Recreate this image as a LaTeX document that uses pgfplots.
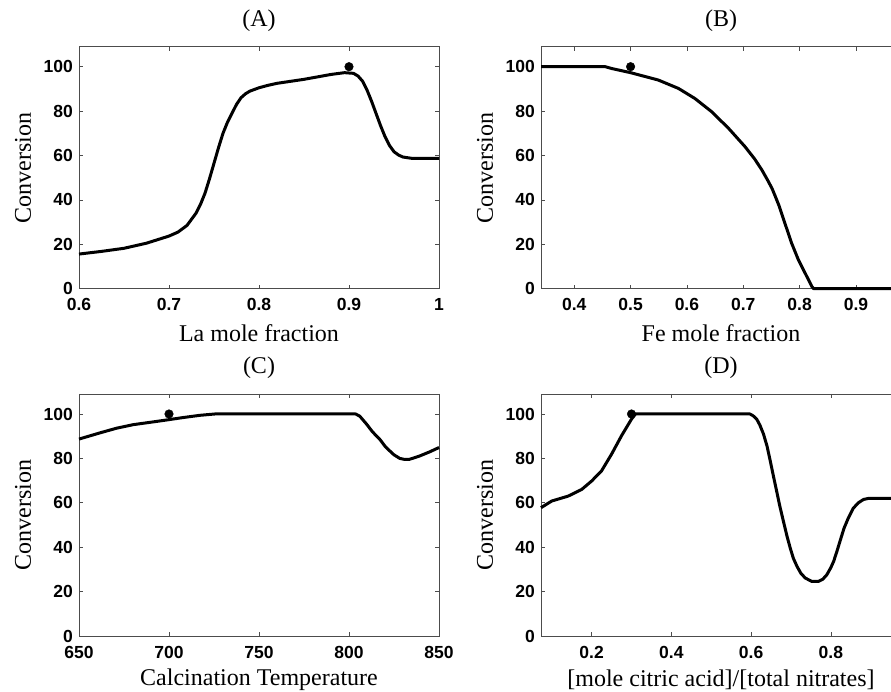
\documentclass[border=0pt]{standalone}
\usepackage{fontspec}
\setmainfont{Liberation Serif}
\newfontfamily\ticksf{Liberation Sans}
\usepackage{pgfplots}
\pgfplotsset{compat=1.18}
\pgfplotsset{
  panel/.style={
    scale only axis, width=360pt, height=242pt,
    ymin=0, ymax=109, ytick={0,20,40,60,80,100},
    tick align=inside, major tick length=4pt,
    axis line style={line width=0.8pt, black!70},
    every tick/.style={black!70, line width=0.6pt},
    /pgf/number format/assume math mode=true,
    tick label style={font=\ticksf\bfseries\fontsize{17.5}{17.5}\selectfont, inner sep=0pt},
    xticklabel style={anchor=center, yshift=-16pt},
    yticklabel style={anchor=east, xshift=-6pt},
    ylabel={Conversion},
    ylabel style={at={(axis description cs:-0.1556,0.5)}, anchor=center, font=\fontsize{24}{24}\selectfont},
    xlabel style={at={(axis description cs:0.5,-0.182)}, anchor=center, font=\fontsize{24}{24}\selectfont},
    title style={at={(axis description cs:0.5,1.083)}, anchor=center, font=\fontsize{24}{24}\selectfont},
    clip=false,
  },
  curve/.style={black, line width=3pt, line join=round},
  dot/.style={only marks, mark=*, mark size=4.3pt, black},
}
\begin{document}
\begin{tikzpicture}
\path[use as bounding box] (0,0) rectangle (891pt,691pt);
\clip (0,0) rectangle (891pt,691pt);
% (A)
\begin{axis}[panel, at={(79pt,402.3pt)}, anchor=south west,
  xmin=0.6, xmax=1, xtick={0.6,0.7,0.8,0.9,1},
  title={(A)}, xlabel={La mole fraction}]
\addplot[curve] coordinates {
(0.6,15.6) (0.625,16.8) (0.65,18.2) (0.675,20.5) (0.7,23.7) (0.71,25.5) (0.72,28.5) (0.73,34) (0.735,38) (0.74,43) (0.745,49.5) (0.75,56.5)
(0.755,63.5) (0.76,70) (0.765,75) (0.77,79) (0.775,83) (0.78,86) (0.785,87.8) (0.79,89) (0.8,90.5) (0.81,91.6) (0.82,92.5) (0.85,94.3)
(0.88,96.5) (0.895,97.3) (0.905,97) (0.91,95.8) (0.915,93.5) (0.92,89.5) (0.925,84.5) (0.93,79) (0.935,73.5) (0.94,68.5)
(0.945,64.5) (0.95,61.7) (0.955,60.2) (0.96,59.3) (0.97,58.7) (1.0,58.7)};
\addplot[dot] coordinates {(0.9,100)};
\end{axis}
% (B)
\begin{axis}[panel, at={(541pt,402.3pt)}, anchor=south west,
  xmin=0.341, xmax=0.98, xtick={0.4,0.5,0.6,0.7,0.8,0.9},
  title={(B)}, xlabel={Fe mole fraction}]
\addplot[curve] coordinates {
(0.341,100) (0.455,100) (0.466,99.2) (0.5,97.3) (0.549,94) (0.585,90.2)
(0.614,85.7) (0.644,79.7) (0.674,72.2) (0.703,64) (0.72,58.5) (0.733,53.5) (0.743,49) (0.751,45.2)
(0.757,41.5) (0.763,37.7) (0.774,29.4) (0.786,20.4) (0.798,12.9) (0.810,6.9) (0.822,0.9)
(0.825,0) (0.98,0)};
\addplot[dot] coordinates {(0.5,100)};
\end{axis}
% (C)
\begin{axis}[panel, at={(79pt,55pt)}, anchor=south west,
  xmin=650, xmax=850, xtick={650,700,750,800,850},
  title={(C)}, xlabel={Calcination Temperature}]
\addplot[curve] coordinates {
(650,88.7) (661.7,91.5) (670.9,93.6) (680.2,95.2) (690,96.3) (698.7,97.3) (707.9,98.4)
(717.2,99.4) (725.5,100) (803.7,100) (806,99) (809.7,95.5) (813,92) (817,88.7) (820,85.5) (822.6,83.4) (825,81.6)
(828.2,80) (831,79.5) (833.7,79.6) (839.3,81.1) (845,83) (850,84.9)};
\addplot[dot] coordinates {(700,100)};
\end{axis}
% (D)
\begin{axis}[panel, at={(541pt,55pt)}, anchor=south west,
  xmin=0.073, xmax=0.976, xtick={0.2,0.4,0.6,0.8},
  title={(D)}, xlabel={[mole citric acid]/[total nitrates]}]
\addplot[curve] coordinates {
(0.073,57.8) (0.1,60.8) (0.141,63) (0.175,66) (0.2,69.8) (0.225,74.4)
(0.25,81.9) (0.275,90.2) (0.3,97.7) (0.31,100) (0.597,100) (0.605,99.2) (0.614,97.7) (0.622,95)
(0.631,91) (0.64,85.5) (0.648,78.9) (0.656,72) (0.664,65.3) (0.672,58.5) (0.681,51.7) (0.69,45) (0.698,39.7) (0.706,35) (0.715,31.4)
(0.725,28.2) (0.736,26.1) (0.752,24.6) (0.769,24.6) (0.78,25.6) (0.79,27.6) (0.8,30.8) (0.807,33.6) (0.815,38) (0.823,42.7) (0.833,48.5)
(0.844,53.2) (0.856,57.5) (0.869,60) (0.882,61.5) (0.895,62) (0.976,62)};
\addplot[dot] coordinates {(0.3,100)};
\end{axis}
\end{tikzpicture}
\end{document}
